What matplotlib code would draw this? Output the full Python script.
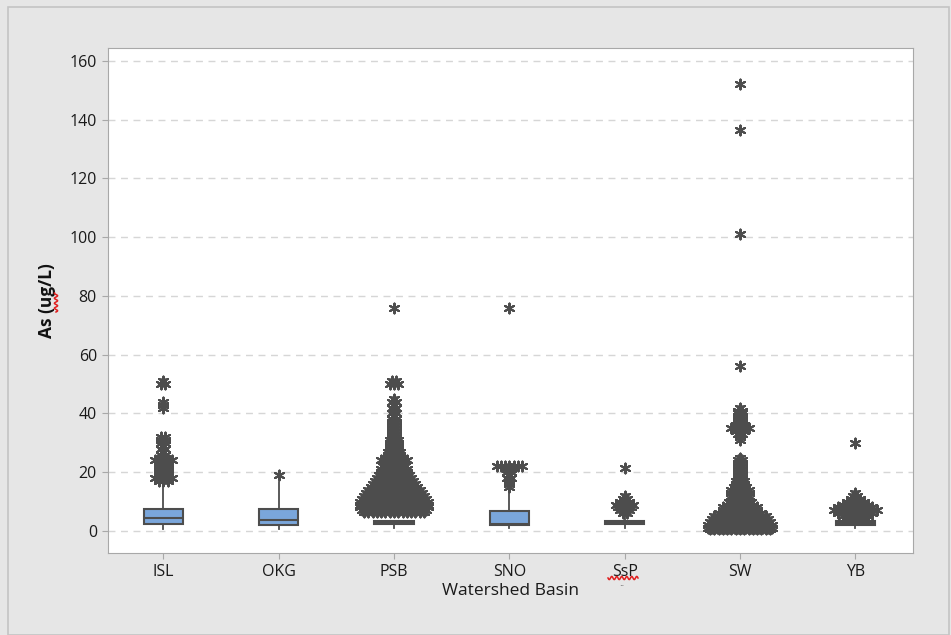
import matplotlib.pyplot as plt
from matplotlib.patches import Rectangle
from matplotlib.lines import Line2D
import numpy as np

basins = ["ISL", "OKG", "PSB", "SNO", "SsP", "SW", "YB"]

# box summaries (ug/L)
q1 = [2.3, 2.0, 2.5, 2.0, 2.4, 1.0, 2.2]
med = [4.3, 3.6, 3.0, 2.4, 2.8, 2.0, 2.6]
q3 = [7.5, 7.5, 3.3, 6.9, 3.3, 4.0, 3.3]
whis_lo = [0.6, 0.8, 1.0, 1.0, 1.0, 0.0, 1.0]
whis_hi = [15.0, 16.5, 3.3, 14.0, 5.5, 8.0, 4.0]

# outliers: value levels and how many samples sit at each level
isl_vals = [51, 50, 44, 43, 42, 32, 31, 30, 29, 28, 27, 26, 25, 24, 23, 22, 21, 20, 19, 18, 17]
isl_cnts = [1, 2, 1, 1, 1, 2, 2, 2, 1, 2, 1, 2, 2, 5, 3, 3, 3, 3, 3, 5, 3]
okg_vals = [19]
okg_cnts = [1]
psb_vals = [76, 51, 50, 45, 44, 43, 42, 41, 40, 39, 38, 37, 36, 35, 34, 33, 32, 31, 30,
            29, 28, 27, 26, 25, 24, 23, 22, 21, 20, 19, 18, 17, 16, 15, 14, 13, 12, 11,
            10, 9, 8, 7, 6.5]
psb_cnts = [1, 2, 3, 1, 2, 1, 2, 1, 2, 1, 2, 2, 2, 2, 2, 2, 2, 3, 3,
            3, 3, 4, 4, 5, 7, 5, 6, 7, 7, 8, 9, 10, 11, 12, 13, 14, 15, 16,
            17, 17, 17, 16, 15]
sno_vals = [76, 22, 21, 20, 19, 18, 17, 16, 15]
sno_cnts = [1, 7, 2, 2, 1, 2, 1, 1, 1]
ssp_vals = [21.5, 12, 11, 10, 9, 8, 7, 6]
ssp_cnts = [1, 1, 2, 3, 5, 4, 3, 2]
sw_vals = [152, 136.5, 101, 56, 42, 41, 40, 39, 38, 37, 36, 35, 34, 33, 32, 31,
           25, 24, 23, 22, 21, 20, 19, 18, 17, 16, 15, 14, 13, 12, 11, 10, 9, 8, 7,
           6, 5, 4, 3, 2, 1, 0.5]
sw_cnts = [1, 1, 1, 1, 1, 2, 2, 2, 2, 2, 3, 5, 3, 2, 1, 1,
           1, 2, 2, 2, 2, 2, 2, 2, 3, 3, 4, 5, 5, 5, 4, 6, 7, 9, 9,
           11, 13, 14, 15, 16, 16, 15]
yb_vals = [30, 13, 12, 11, 10, 9, 8, 7, 6, 5, 4.5]
yb_cnts = [1, 1, 2, 3, 5, 7, 9, 11, 9, 7, 5]

out_vals = [isl_vals, okg_vals, psb_vals, sno_vals, ssp_vals, sw_vals, yb_vals]
out_cnts = [isl_cnts, okg_cnts, psb_cnts, sno_cnts, ssp_cnts, sw_cnts, yb_cnts]

BG = "#e6e6e6"
DARK = "#4d4d4d"
BOX = "#7aa6db"
W, H = 951, 635

fig = plt.figure(figsize=(9.51, 6.35), dpi=100, facecolor=BG)
fig.patches.append(Rectangle((8 / W, 0), 941 / W, 628 / H, transform=fig.transFigure,
                             fill=False, edgecolor="#c4c4c4", linewidth=1.2))
ax = fig.add_axes([108 / W, 1 - 553 / H, 805 / W, 505 / H])
ax.set_facecolor("white")

stats = [dict(med=m, q1=a, q3=b, whislo=lo, whishi=hi, fliers=[])
         for m, a, b, lo, hi in zip(med, q1, q3, whis_lo, whis_hi)]
ax.bxp(stats, positions=range(len(basins)), widths=0.34, patch_artist=True,
       showcaps=False, showfliers=False,
       boxprops=dict(facecolor=BOX, edgecolor=DARK, linewidth=1.5),
       medianprops=dict(color=DARK, linewidth=1.5),
       whiskerprops=dict(color=DARK, linewidth=1.3), zorder=2)

# tied outliers are set side by side around the category centre
step = 0.037
for i, (vals, cnts) in enumerate(zip(out_vals, out_cnts)):
    xs, ys = [], []
    for v, n in zip(vals, cnts):
        xs.extend(i + (np.arange(n) - (n - 1) / 2) * step)
        ys.extend([v] * n)
    ax.scatter(xs, ys, marker=(6, 2, 0), s=50, color=DARK, linewidths=1.5, zorder=3)

ax.set_xlim(-0.48, 6.5)
ax.set_ylim(-7.5, 164.4)
ax.set_yticks(range(0, 161, 20))
ax.set_xticks(range(len(basins)))
ax.set_xticklabels(basins)
ax.yaxis.grid(True, linestyle=(0, (5, 4)), color="#d6d6d6", linewidth=1)
ax.set_axisbelow(True)
for s in ax.spines.values():
    s.set_color("#a8a8a8")
ax.tick_params(colors="#a8a8a8", labelcolor="#1a1a1a", length=4, labelsize=11.5, pad=4)
for lab in ax.get_xticklabels() + ax.get_yticklabels():
    lab.set_family("Open Sans")

ax.set_xlabel("Watershed Basin", fontsize=12.5, family="Open Sans", color="#1a1a1a", labelpad=2)
ax.set_ylabel("As (ug/L)", fontsize=12.5, family="Open Sans", weight="bold",
              color="#111111", labelpad=10)


# red spell-check squiggles, in figure pixels
def squiggle(x0, y0, x1, y1, amp=1.6, period=5.0):
    length = np.hypot(x1 - x0, y1 - y0)
    t = np.linspace(0, length, 80)
    ux, uy = (x1 - x0) / length, (y1 - y0) / length
    wave = amp * np.sin(2 * np.pi * t / period)
    px = x0 + ux * t - uy * wave
    py = y0 + uy * t + ux * wave
    fig.add_artist(Line2D(px / W, 1 - py / H, transform=fig.transFigure,
                          color="#e02020", linewidth=1.1))


squiggle(608, 578, 638, 578)
squiggle(56, 312, 56, 293)
fig.text(622 / W, 1 - 584 / H, "..", ha="center", va="center", fontsize=6, color="#444444")

fig.savefig("out.png", dpi=100, facecolor=BG)
